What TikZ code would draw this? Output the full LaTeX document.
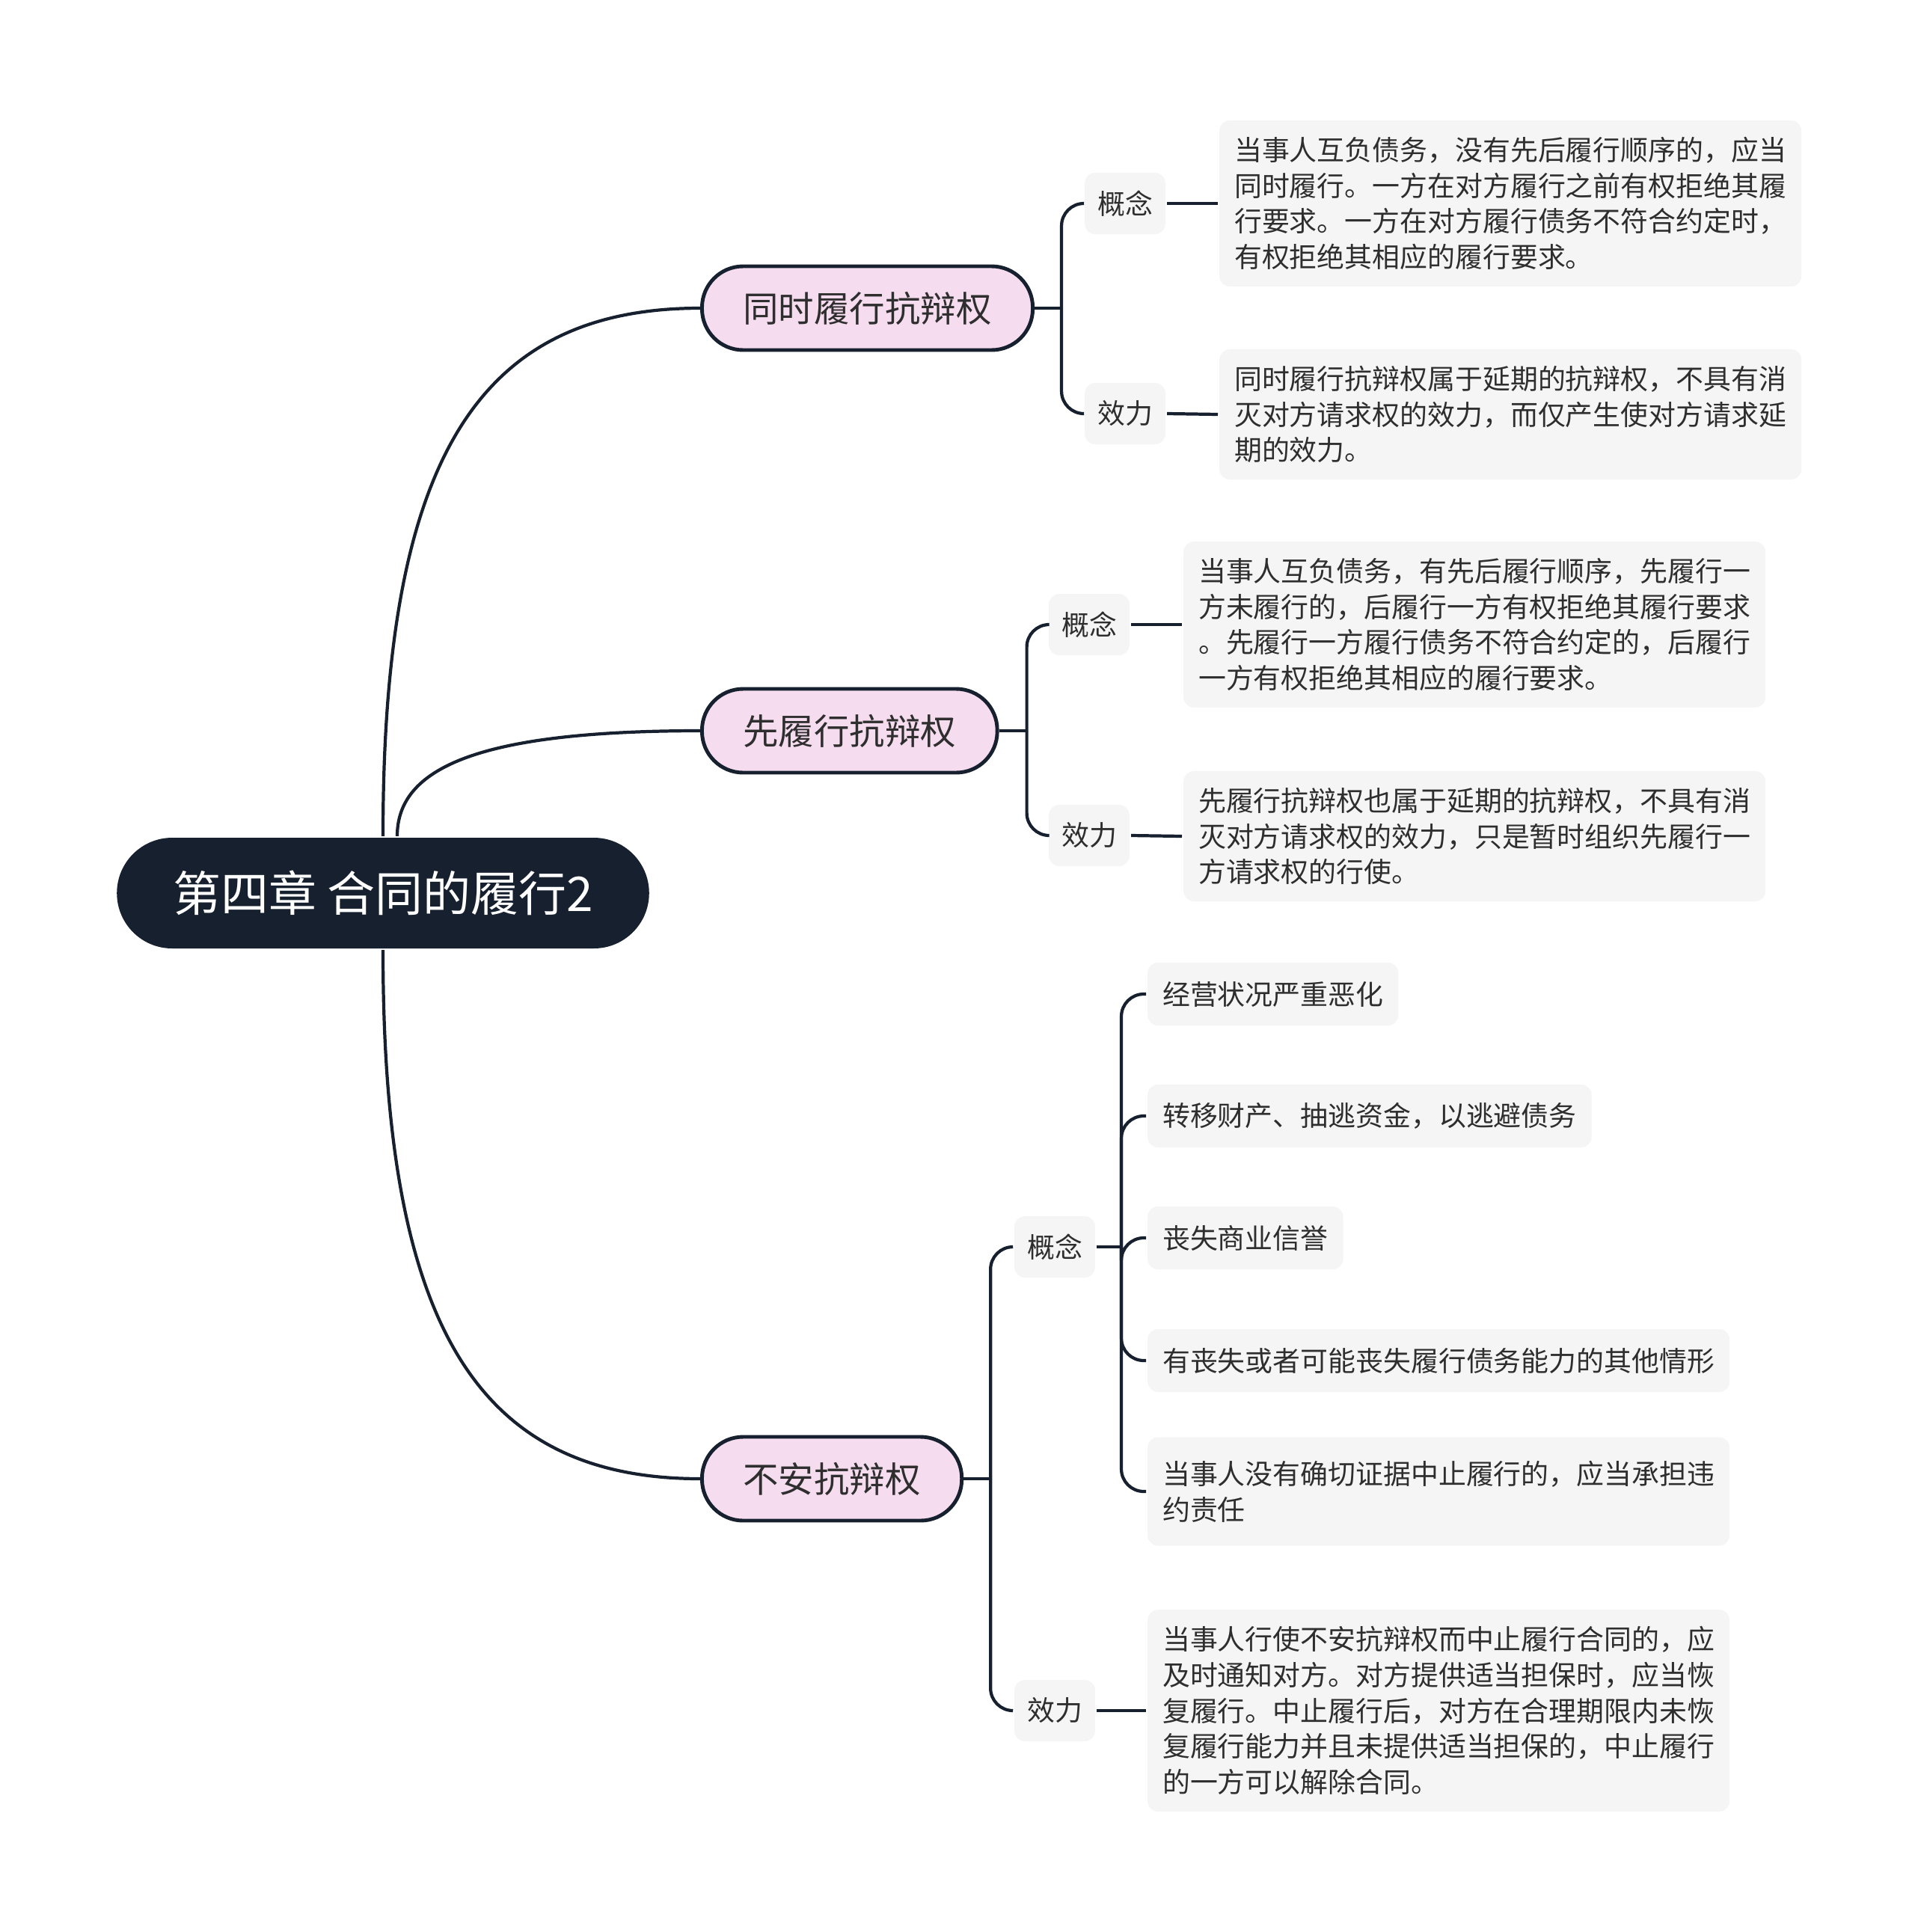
\documentclass[tikz,border=0pt]{standalone}
\usepackage{fontspec}
\setmainfont{Noto Sans CJK SC}
\definecolor{navy}{HTML}{16202E}
\definecolor{pinkfill}{HTML}{F5DCEF}
\definecolor{boxgray}{HTML}{F5F5F5}
\definecolor{inkgray}{HTML}{2E2E2E}

\begin{document}
\begin{tikzpicture}[
    line width=1.2pt,
    edge/.style={draw=navy, line width=1.2pt},
    root/.style={fill=navy, text=white, rounded corners=0.74cm, minimum height=1.48cm, inner xsep=0.75cm, font=\fontsize{18.2}{22}\selectfont},
    branch/.style={fill=pinkfill, draw=navy, line width=1.4pt, rounded corners=0.55cm, minimum height=1.12cm, inner xsep=0.55cm, text=inkgray, font=\fontsize{13.5}{16}\selectfont, anchor=west},
    tag/.style={fill=boxgray, rounded corners=0.14cm, minimum height=0.82cm, inner xsep=0.17cm, text=inkgray, font=\fontsize{10.5}{13.6}\selectfont, anchor=west},
    leaf/.style={fill=boxgray, rounded corners=0.14cm, minimum height=0.84cm, inner xsep=0.2cm, inner ysep=0.22cm, align=left, text=inkgray, font=\fontsize{10.5}{13.6}\selectfont, anchor=west}
]
  \fill[white] (0,0) rectangle (25.6,-25.83);
  \useasboundingbox (0,0) rectangle (25.6,-25.83);

  % nodes
  \node[root] (root) at (5.12,-11.94) {第四章 合同的履行2};

  \node[branch] (b1) at (9.36,-4.12)  {同时履行抗辩权};
  \node[branch] (b2) at (9.36,-9.77)  {先履行抗辩权};
  \node[branch] (b3) at (9.36,-19.77) {不安抗辩权};

  \node[tag] (c1) at (14.48,-2.72) {概念};
  \node[tag] (e1) at (14.48,-5.53) {效力};
  \node[leaf] (t1) at (16.28,-2.72) {当事人互负债务，没有先后履行顺序的，应当\\同时履行。一方在对方履行之前有权拒绝其履\\行要求。一方在对方履行债务不符合约定时，\\有权拒绝其相应的履行要求。};
  \node[leaf] (t2) at (16.28,-5.54) {同时履行抗辩权属于延期的抗辩权，不具有消\\灭对方请求权的效力，而仅产生使对方请求延\\期的效力。};

  \node[tag] (c2) at (14.00,-8.35)  {概念};
  \node[tag] (e2) at (14.00,-11.17) {效力};
  \node[leaf] (t3) at (15.80,-8.35)  {当事人互负债务，有先后履行顺序，先履行一\\方未履行的，后履行一方有权拒绝其履行要求\\。先履行一方履行债务不符合约定的，后履行\\一方有权拒绝其相应的履行要求。};
  \node[leaf] (t4) at (15.80,-11.18) {先履行抗辩权也属于延期的抗辩权，不具有消\\灭对方请求权的效力，只是暂时组织先履行一\\方请求权的行使。};

  \node[tag] (c3) at (13.54,-16.67) {概念};
  \node[tag] (e3) at (13.54,-22.87) {效力};
  \node[leaf] (i1) at (15.32,-13.29) {经营状况严重恶化};
  \node[leaf] (i2) at (15.32,-14.92) {转移财产、抽逃资金，以逃避债务};
  \node[leaf] (i3) at (15.32,-16.55) {丧失商业信誉};
  \node[leaf] (i4) at (15.32,-18.19) {有丧失或者可能丧失履行债务能力的其他情形};
  \node[leaf, minimum height=1.45cm] (i5) at (15.32,-19.94) {当事人没有确切证据中止履行的，应当承担违\\约责任};
  \node[leaf] (t5) at (15.32,-22.87) {当事人行使不安抗辩权而中止履行合同的，应\\及时通知对方。对方提供适当担保时，应当恢\\复履行。中止履行后，对方在合理期限内未恢\\复履行能力并且未提供适当担保的，中止履行\\的一方可以解除合同。};

  % junctions
  \coordinate (j1) at ([xshift=0.36cm]b1.east);
  \coordinate (j2) at ([xshift=0.37cm]b2.east);
  \coordinate (j3) at ([xshift=0.36cm]b3.east);
  \coordinate (jc) at ([xshift=0.33cm]c3.east);

  % edges
  \draw[edge] (root.north) .. controls +(0,5.0) and +(-3.0,0) .. (b1.west);
  \draw[edge] ([xshift=0.19cm]root.north) .. controls +(0,0.9) and +(-3.0,0) .. (b2.west);
  \draw[edge] (root.south) .. controls +(0,-5.0) and +(-3.0,0) .. (b3.west);

  \draw[edge] (b1.east) -- (j1);
  \draw[edge, rounded corners=0.3cm] (j1) |- (c1.west);
  \draw[edge, rounded corners=0.3cm] (j1) |- (e1.west);
  \draw[edge] (c1.east) -- (t1.west);
  \draw[edge] (e1.east) -- (t2.west);

  \draw[edge] (b2.east) -- (j2);
  \draw[edge, rounded corners=0.3cm] (j2) |- (c2.west);
  \draw[edge, rounded corners=0.3cm] (j2) |- (e2.west);
  \draw[edge] (c2.east) -- (t3.west);
  \draw[edge] (e2.east) -- (t4.west);

  \draw[edge] (b3.east) -- (j3);
  \draw[edge, rounded corners=0.3cm] (j3) |- (c3.west);
  \draw[edge, rounded corners=0.3cm] (j3) |- (e3.west);
  \draw[edge] (c3.east) -- (jc);
  \foreach \k in {i1,i2,i3,i4,i5}
    \draw[edge, rounded corners=0.3cm] (jc) |- (\k.west);
  \draw[edge] (e3.east) -- (t5.west);
\end{tikzpicture}
\end{document}
